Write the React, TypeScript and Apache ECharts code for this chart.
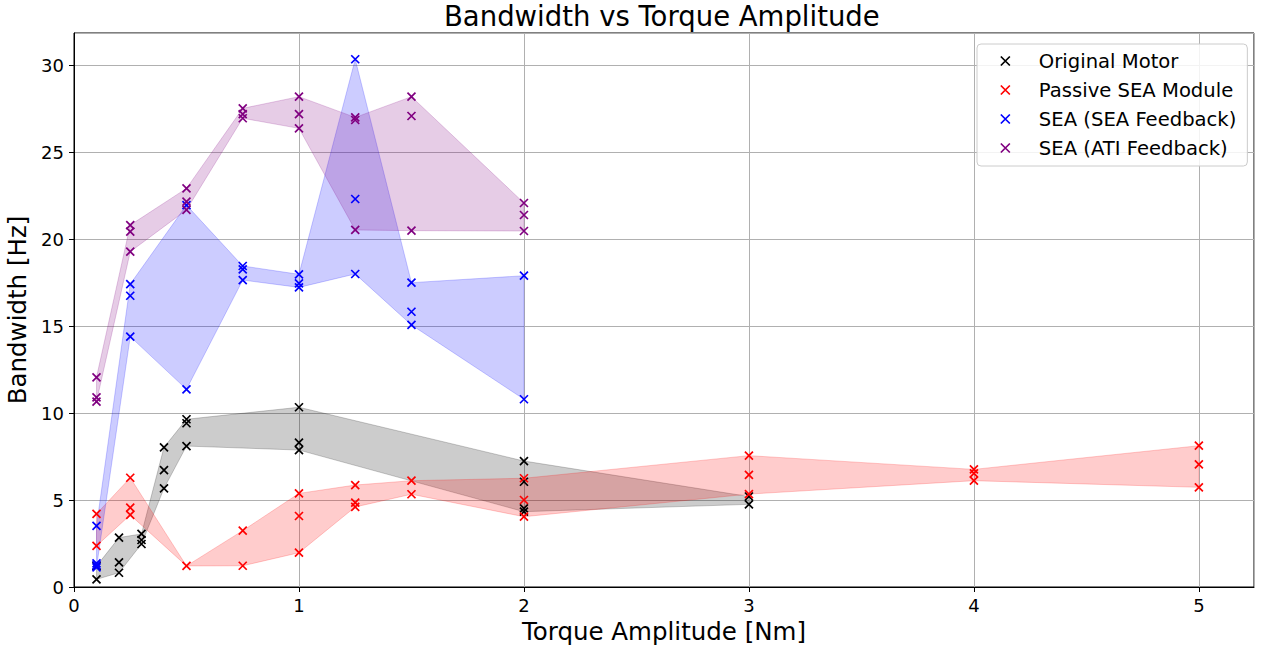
import React, { useEffect, useRef } from "react";
import * as echarts from "echarts";

const motorTorque = [0.1, 0.1, 0.2, 0.2, 0.2, 0.3, 0.3, 0.3, 0.4, 0.4, 0.4, 0.5, 0.5, 0.5, 1, 1, 1, 2, 2, 2, 2, 3, 3];
const motorBandwidth = [0.44, 1.2, 0.82, 1.42, 2.84, 2.47, 2.7, 3.05, 5.67, 6.72, 8.03, 8.1, 9.41, 9.64, 7.87, 8.3, 10.33, 4.33, 4.52, 6.05, 7.24, 4.75, 5.2];

const passiveTorque = [0.1, 0.1, 0.25, 0.25, 0.25, 0.5, 0.75, 0.75, 1, 1, 1, 1.25, 1.25, 1.25, 1.5, 1.5, 2, 2, 2, 3, 3, 3, 4, 4, 4, 5, 5, 5];
const passiveBandwidth = [2.36, 4.2, 4.14, 4.56, 6.28, 1.21, 1.22, 3.24, 1.97, 4.08, 5.38, 4.6, 4.85, 5.86, 5.33, 6.11, 4.04, 5.0, 6.25, 5.34, 6.44, 7.55, 6.11, 6.53, 6.76, 5.73, 7.05, 8.12];

const seaTorque = [0.1, 0.1, 0.1, 0.1, 0.25, 0.25, 0.25, 0.5, 0.5, 0.75, 0.75, 0.75, 1, 1, 1, 1.25, 1.25, 1.25, 1.5, 1.5, 1.5, 2, 2];
const seaBandwidth = [1.13, 1.25, 1.36, 3.51, 14.39, 16.74, 17.41, 11.36, 21.95, 17.64, 18.26, 18.45, 17.22, 17.45, 17.97, 17.99, 22.3, 30.33, 15.06, 15.82, 17.49, 10.79, 17.89];

const atiTorque = [0.1, 0.1, 0.1, 0.25, 0.25, 0.25, 0.5, 0.5, 0.5, 0.75, 0.75, 0.75, 1, 1, 1, 1.25, 1.25, 1.25, 1.5, 1.5, 1.5, 2, 2, 2];
const atiBandwidth = [10.65, 10.9, 12.05, 19.27, 20.42, 20.8, 21.67, 22.15, 22.91, 26.94, 27.18, 27.51, 26.36, 27.18, 28.18, 20.52, 26.84, 26.99, 20.48, 27.07, 28.18, 20.46, 21.38, 22.07];

const seriesNames = ["Original Motor", "Passive SEA Module", "SEA (SEA Feedback)", "SEA (ATI Feedback)"];
const seriesColors = ["#000000", "#ff0000", "#0000ff", "#800080"];
const bandColors = ["rgba(0,0,0,0.2)", "rgba(255,0,0,0.2)", "rgba(0,0,255,0.2)", "rgba(128,0,128,0.2)"];

const xTicks = [0, 1, 2, 3, 4, 5];
const yTicks = [0, 5, 10, 15, 20, 25, 30];

const FONT = "DejaVu Sans";
const X_SYMBOL = "path://M0,0L10,10M10,0L0,10";

function envelope(xs: number[], ys: number[]) {
  const map = new Map<number, number[]>();
  xs.forEach((x, i) => {
    if (!map.has(x)) map.set(x, []);
    map.get(x)!.push(ys[i]);
  });
  const keys = Array.from(map.keys()).sort((a, b) => a - b);
  return {
    x: keys,
    lo: keys.map((k) => Math.min(...map.get(k)!)),
    hi: keys.map((k) => Math.max(...map.get(k)!)),
  };
}

function bandSeries(idx: number, xs: number[], ys: number[]) {
  const env = envelope(xs, ys);
  return {
    type: "custom",
    name: seriesNames[idx] + " band",
    silent: true,
    z: 1,
    data: [[env.x[0], env.lo[0]]],
    renderItem: (_params: any, api: any) => {
      const pts: number[][] = [];
      env.x.forEach((x, i) => pts.push(api.coord([x, env.hi[i]])));
      for (let i = env.x.length - 1; i >= 0; i--) pts.push(api.coord([env.x[i], env.lo[i]]));
      return {
        type: "polygon",
        shape: { points: pts },
        style: { fill: bandColors[idx], stroke: bandColors[idx], lineWidth: 1 },
      };
    },
  };
}

function scatterSeries(idx: number, xs: number[], ys: number[]) {
  return {
    type: "scatter",
    name: seriesNames[idx],
    z: 3,
    symbol: X_SYMBOL,
    symbolSize: 8,
    itemStyle: { color: seriesColors[idx], borderColor: seriesColors[idx], borderWidth: 1.7, opacity: 1 },
    data: xs.map((x, i) => [x, ys[i]]),
  };
}

export default function App() {
  const ref = useRef<HTMLDivElement>(null);
  useEffect(() => {
    if (!ref.current) return;
    const chart = echarts.init(ref.current, undefined, { renderer: "svg" });
    const groups: [number[], number[]][] = [
      [motorTorque, motorBandwidth],
      [passiveTorque, passiveBandwidth],
      [seaTorque, seaBandwidth],
      [atiTorque, atiBandwidth],
    ];
    const series: any[] = [];
    groups.forEach(([xs, ys], i) => series.push(bandSeries(i, xs, ys)));
    groups.forEach(([xs, ys], i) => series.push(scatterSeries(i, xs, ys)));

    chart.setOption({
      animation: false,
      backgroundColor: "#ffffff",
      textStyle: { fontFamily: FONT },
      title: {
        text: "Bandwidth vs Torque Amplitude",
        left: 444,
        top: 2,
        padding: 0,
        textStyle: { fontFamily: FONT, fontSize: 27.5, fontWeight: "normal", color: "#000" },
      },
      grid: { left: 74, right: 11, top: 33, bottom: 64, show: true, borderColor: "#000", borderWidth: 1, outerBoundsMode: "none" },
      legend: {
        data: seriesNames,
        orient: "vertical",
        left: 977,
        top: 44,
        padding: [7, 11, 8, 23],
        itemWidth: 9,
        itemHeight: 9,
        itemGap: 9,
        icon: X_SYMBOL,
        backgroundColor: "rgba(255,255,255,0.85)",
        borderColor: "#cccccc",
        borderWidth: 1,
        borderRadius: 4,
        itemStyle: { borderWidth: 1.7 },
        textStyle: { fontFamily: FONT, fontSize: 19.6, color: "#000", lineHeight: 19, padding: [0, 0, 0, 24] },
      },
      xAxis: {
        type: "value",
        min: 0,
        max: 5.245,
        interval: 1,
        name: "Torque Amplitude [Nm]",
        nameLocation: "middle",
        nameGap: 31,
        nameTextStyle: { fontFamily: FONT, fontSize: 24.5, color: "#000" },
        axisLine: { show: true, onZero: false, lineStyle: { color: "#000", width: 1 } },
        axisTick: { show: true, length: 5, lineStyle: { color: "#000" } },
        axisLabel: {
          fontFamily: FONT,
          fontSize: 18,
          color: "#000",
          margin: 9,
          showMaxLabel: false,
          formatter: (v: number) => (xTicks.includes(v) ? String(v) : ""),
        },
        splitLine: { show: true, lineStyle: { color: "#b0b0b0", width: 1 } },
      },
      yAxis: {
        type: "value",
        min: 0,
        max: 31.84,
        interval: 5,
        name: "Bandwidth [Hz]",
        nameLocation: "middle",
        nameGap: 40,
        nameTextStyle: { fontFamily: FONT, fontSize: 24.5, color: "#000" },
        axisLine: { show: true, onZero: false, lineStyle: { color: "#000", width: 1 } },
        axisTick: { show: true, length: 5, lineStyle: { color: "#000" } },
        axisLabel: {
          fontFamily: FONT,
          fontSize: 18,
          color: "#000",
          margin: 10,
          showMaxLabel: false,
          formatter: (v: number) => (yTicks.includes(v) ? String(v) : ""),
        },
        splitLine: { show: true, lineStyle: { color: "#b0b0b0", width: 1 } },
      },
      series,
    });
    return () => chart.dispose();
  }, []);
  return <div ref={ref} style={{ position: "absolute", left: 0, top: 0, width: 1265, height: 651 }} />;
}
